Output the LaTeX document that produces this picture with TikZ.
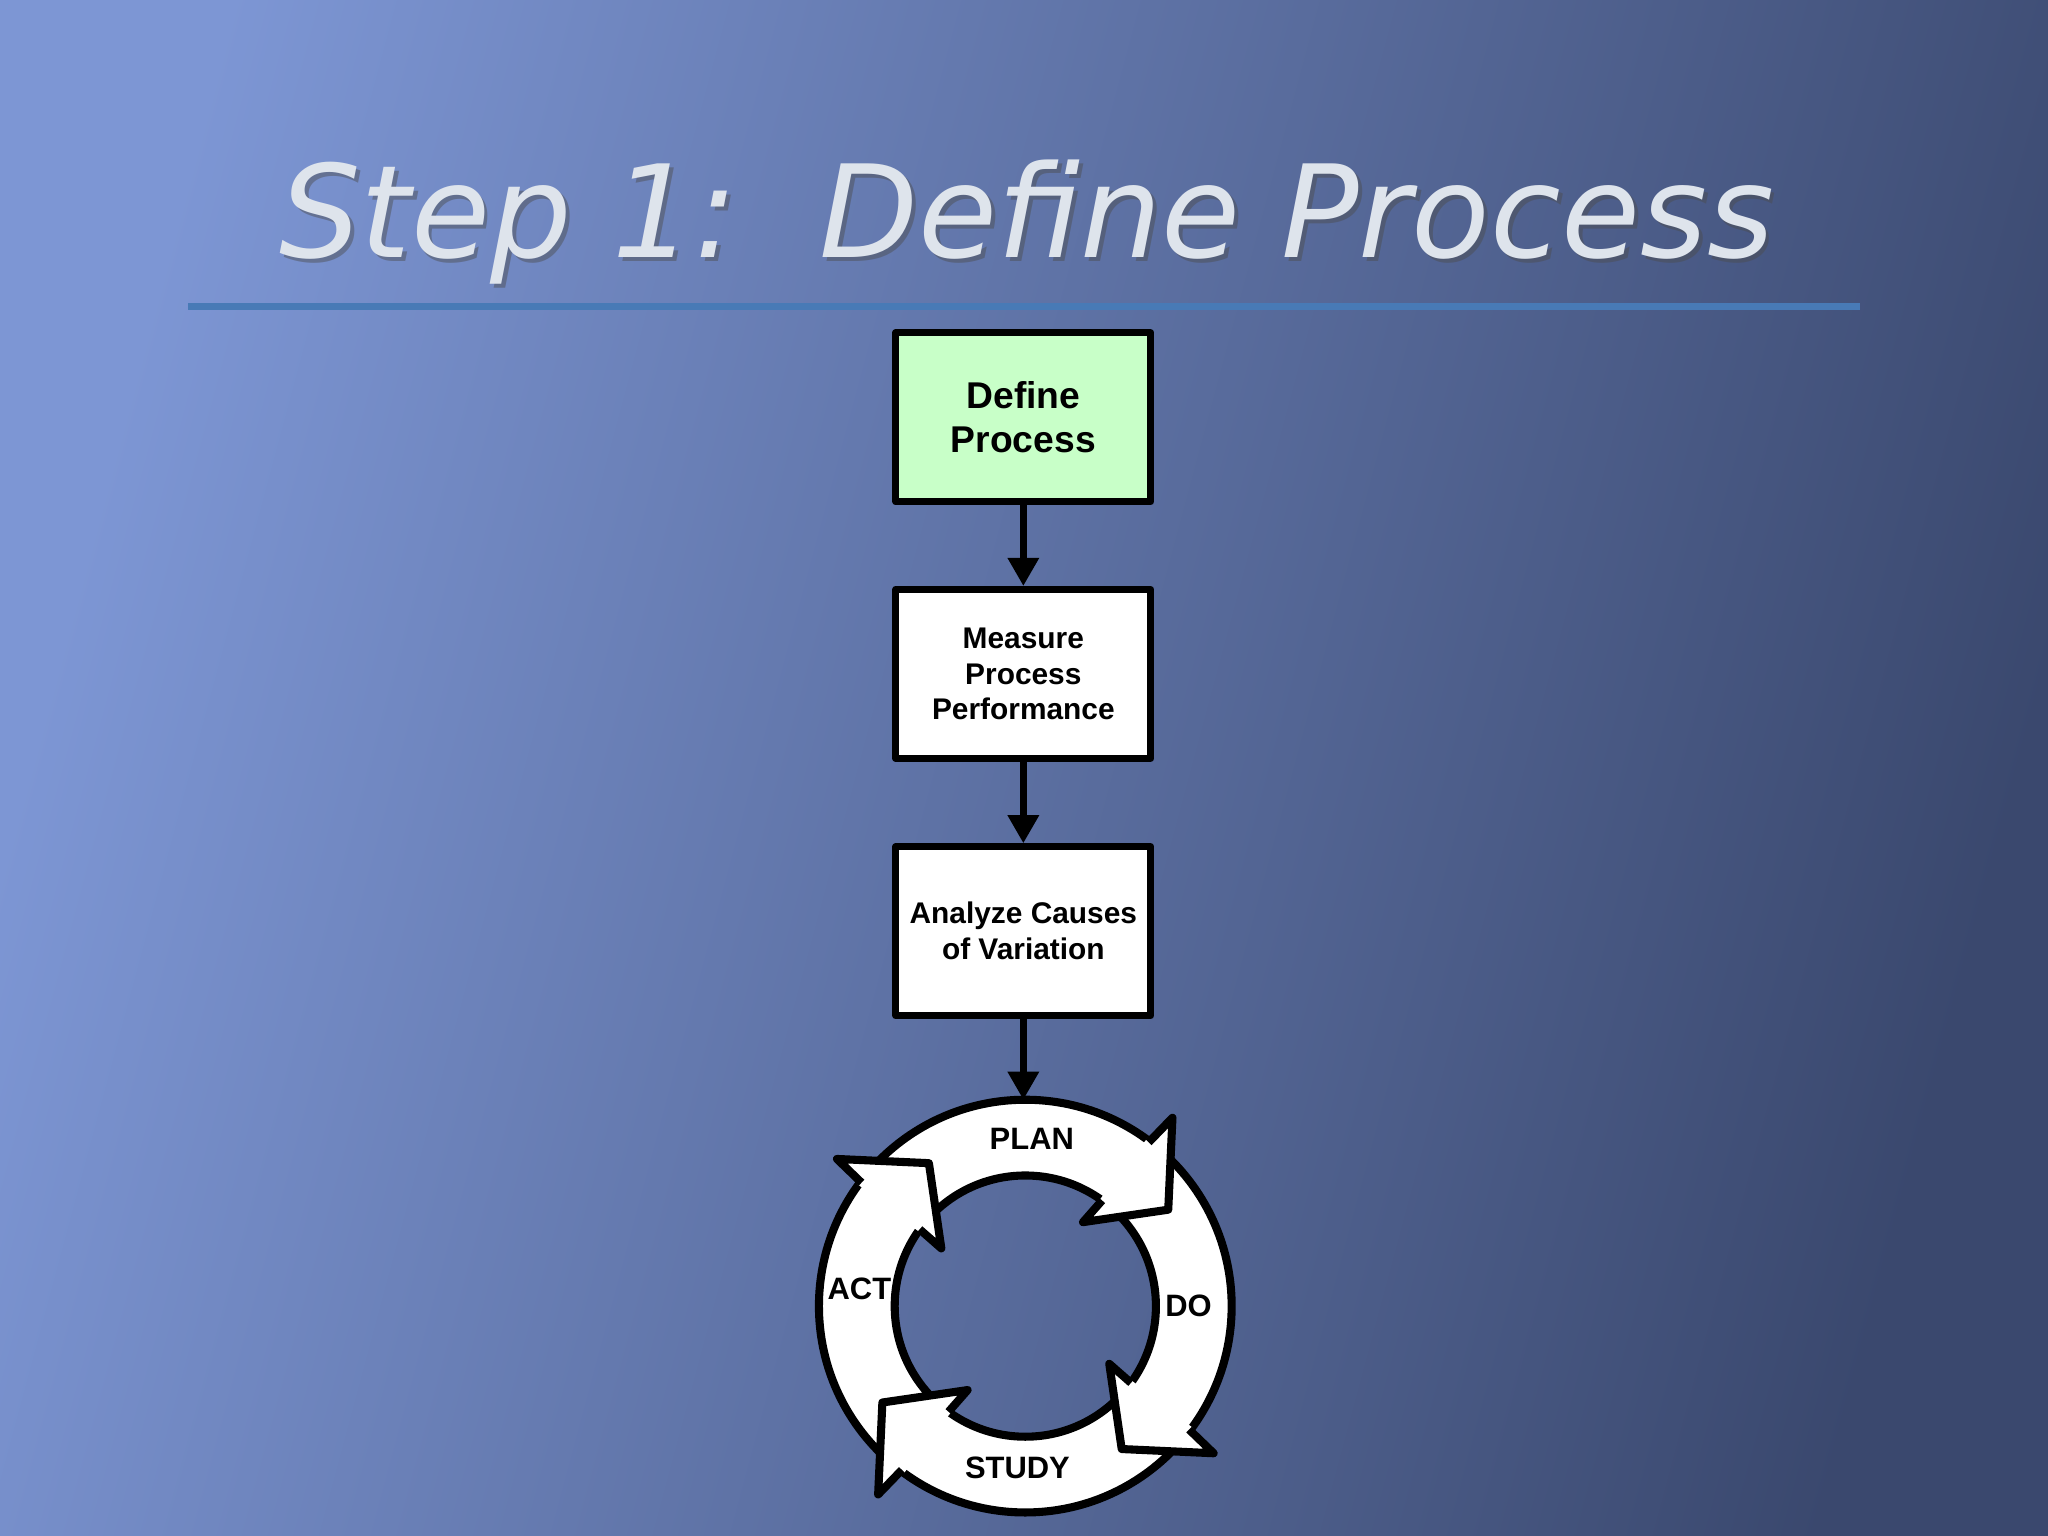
\documentclass[tikz,border=0pt]{standalone}
\usepackage{fontspec}
\setmainfont{Liberation Sans}
\newfontfamily\titlefont{DejaVu Sans}
\usetikzlibrary{arrows.meta,calc}
\definecolor{bgL}{RGB}{125,150,212}
\definecolor{bgM}{RGB}{85,104,152}
\definecolor{bgR}{RGB}{58,72,110}
\definecolor{rule}{RGB}{72,122,182}
\definecolor{boxgreen}{RGB}{200,255,200}
\definecolor{titlecol}{RGB}{222,228,236}
\tikzset{
  box/.style={draw=black,line width=2pt,minimum width=2.55cm,minimum height=1.69cm,align=center,inner sep=0pt,font=\bfseries},
  conn/.style={line width=1.8pt,-{Triangle[width=0.3cm,length=0.28cm]}},
  ring/.style={line width=2.3pt},
  lbl/.style={font=\bfseries\fontsize{8.8}{10}\selectfont}
}
\begin{document}
\begin{tikzpicture}[x=0.01306cm,y=0.01306cm,line join=round]
\useasboundingbox (0,0) rectangle (1568,1176);
\shade[left color=bgL,middle color=bgM,right color=bgR,shading angle=75] (0,0) rectangle (1568,1176);
% title
\node[anchor=base,text=black!70,opacity=0.45] at (789,976) {\resizebox{14.95cm}{!}{\titlefont\itshape Step 1:\ \ Define Process}};
\node[anchor=base,text=titlecol] (title) at (786,979) {\resizebox{14.95cm}{!}{\titlefont\itshape Step 1:\ \ Define Process}};
\draw[rule,line width=2pt] (144,941) -- (1424,941);
% boxes
\node[box,fill=boxgreen,font=\bfseries\fontsize{10.6}{12.3}\selectfont] (b1) at (783.5,856.5) {Define\\Process};
\node[box,fill=white,font=\bfseries\fontsize{8.5}{10}\selectfont] (b2) at (783.5,660) {Measure\\Process\\Performance};
\node[box,fill=white,font=\bfseries\fontsize{8.5}{10.2}\selectfont] (b3) at (783.5,463) {Analyze Causes\\of Variation};
\coordinate (c) at (785,176);
\coordinate (ringtop) at (783.5,334);
\draw[conn] (b1) -- (b2);
\draw[conn] (b2) -- (b3);
\draw[conn] (b3) -- (ringtop);
% ring
\fill[white,even odd rule] (c) circle (158) (c) circle (100);
\draw[ring] (c) circle (158);
\draw[ring] (c) circle (100);
\foreach \a in {53,-37,-127,143}{
  \fill[white] ($(c)+(\a+2:100)$) -- ($(c)+(\a+2:78)$) -- ($(c)+(\a-19:132)$) -- ($(c)+(\a-1:183)$) -- ($(c)+(\a+1:158)$) -- cycle;
  \draw[ring] ($(c)+(\a+1:100)$) -- ($(c)+(\a+2.5:78)$) -- ($(c)+(\a-19:132)$) -- ($(c)+(\a-1:183)$) -- ($(c)+(\a:157)$);
}
\node[lbl] (plan) at (790,304) {PLAN};
\node[lbl] (do) at (910,176) {DO};
\node[lbl] (study) at (779,52) {STUDY};
\node[lbl] (act) at (658,189) {ACT};
\end{tikzpicture}
\end{document}
